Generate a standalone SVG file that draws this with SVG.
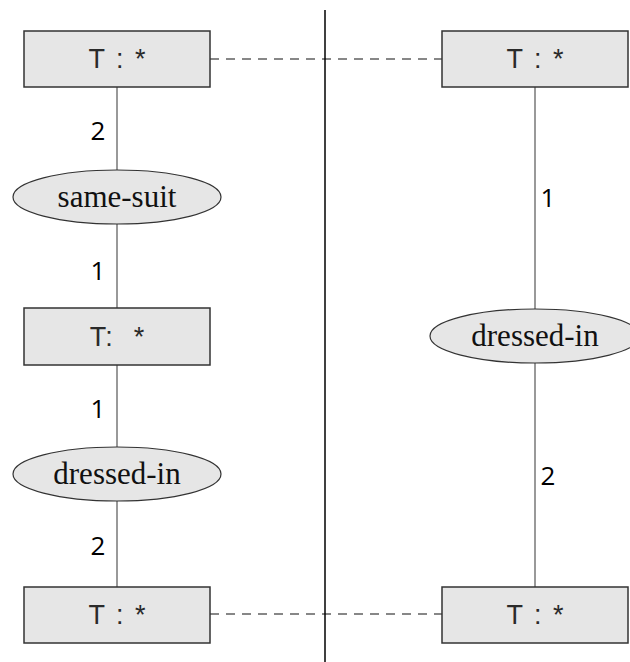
<svg xmlns="http://www.w3.org/2000/svg" width="630" height="662" viewBox="0 0 630 662">
<style>
.box{fill:#e6e6e6;stroke:#333;stroke-width:1.5}
.ell{fill:#e6e6e6;stroke:#333;stroke-width:1.2}
.bt{font-family:"Liberation Sans",Arial,sans-serif;font-size:27px;fill:#2a2a2a;text-anchor:middle;letter-spacing:2px}
.et{font-family:"Liberation Serif","Times New Roman",serif;font-size:31px;fill:#111;text-anchor:middle}
.num{font-family:"Open Sans","Liberation Sans",sans-serif;font-size:26px;fill:#000;text-anchor:middle}
.ln{stroke:#555;stroke-width:1.2;fill:none}
.dash{stroke:#111;stroke-width:1.2;stroke-dasharray:9 7;fill:none}
</style>
<g id="connectors">
<line class="ln" x1="117" y1="87" x2="117" y2="170"/>
<line class="ln" x1="117" y1="224" x2="117" y2="308"/>
<line class="ln" x1="117" y1="365" x2="117" y2="447"/>
<line class="ln" x1="117" y1="501" x2="117" y2="587"/>
<line class="ln" x1="535" y1="87" x2="535" y2="309"/>
<line class="ln" x1="535" y1="363" x2="535" y2="587"/>
<line class="dash" x1="210" y1="59" x2="442" y2="59"/>
<line class="dash" x1="210" y1="614" x2="442" y2="614"/>
<text class="num" x="98" y="140">2</text>
<text class="num" x="98" y="280">1</text>
<text class="num" x="98" y="418">1</text>
<text class="num" x="98" y="555">2</text>
<text class="num" x="548" y="207">1</text>
<text class="num" x="548" y="485">2</text>
</g>
<line id="divider" x1="325" y1="10" x2="325" y2="662" stroke="#000" stroke-width="1.5"/>
<g id="n1"><rect class="box" x="24" y="31" width="186" height="56"/><text class="bt" x="118" y="68" xml:space="preserve">T : *</text></g>
<g id="n2"><ellipse class="ell" cx="117" cy="197" rx="104" ry="27"/><text class="et" x="117" y="207">same-suit</text></g>
<g id="n3"><rect class="box" x="24" y="308" width="186" height="57"/><text class="bt" x="118" y="346" xml:space="preserve">T:  *</text></g>
<g id="n4"><ellipse class="ell" cx="117" cy="474" rx="104" ry="27"/><text class="et" x="117" y="484">dressed-in</text></g>
<g id="n5"><rect class="box" x="24" y="587" width="186" height="56"/><text class="bt" x="118" y="624" xml:space="preserve">T : *</text></g>
<g id="n6"><rect class="box" x="442" y="31" width="186" height="56"/><text class="bt" x="536" y="68" xml:space="preserve">T : *</text></g>
<g id="n7"><ellipse class="ell" cx="535" cy="336" rx="105" ry="27"/><text class="et" x="535" y="346">dressed-in</text></g>
<g id="n8"><rect class="box" x="442" y="587" width="186" height="56"/><text class="bt" x="536" y="624" xml:space="preserve">T : *</text></g>
</svg>
